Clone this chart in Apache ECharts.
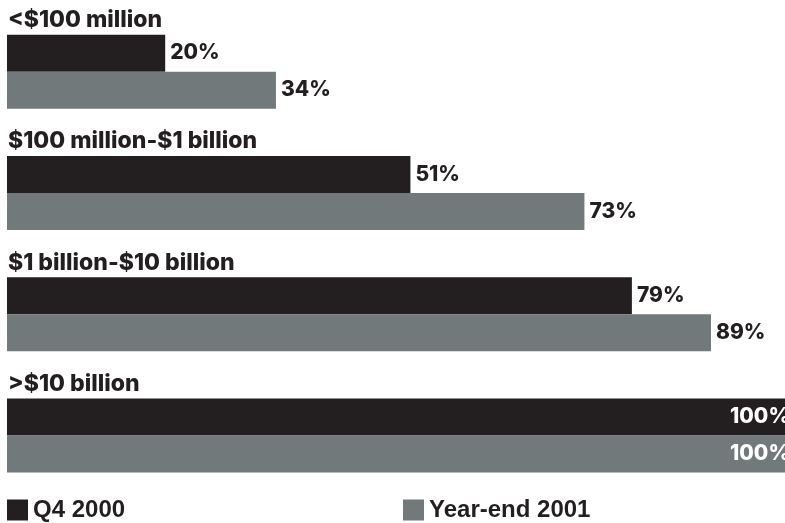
<!DOCTYPE html>
<html>
<head>
<meta charset="utf-8">
<script src="https://cdn.jsdelivr.net/npm/echarts@6/dist/echarts.min.js"></script>
<style>
  html, body { margin: 0; padding: 0; background: #fff; }
  #chart { width: 785px; height: 523px; }
</style>
</head>
<body>
<div id="chart"></div>
<script>
// Company size bands and the share reached in each period
const categories = ['<$100 million', '$100 million-$1 billion', '$1 billion-$10 billion', '>$10 billion'];
const q4_2000 = [20, 51, 79, 100];
const yearEnd2001 = [34, 73, 89, 100];
const seriesNames = ['Q4 2000', 'Year-end 2001'];

const DARK = '#231f20';
const GRAY = '#72797b';
const FONT = 'Inter, "Liberation Sans", sans-serif';
const LEGEND_FONT = '"Liberation Sans", Arial, sans-serif';

function withLabels(values) {
  // Full-width bars carry their value inside in white, others just past the end
  return values.map((v) => ({
    value: v,
    label: v >= 100
      ? { position: 'insideRight', color: '#fff', distance: 8 }
      : { position: 'right', color: DARK, distance: 5 }
  }));
}

const valueLabel = {
  show: true,
  formatter: '{c}%',
  fontFamily: FONT,
  fontWeight: 800,
  fontSize: 21
};

const chart = echarts.init(document.getElementById('chart'), null, { renderer: 'canvas' });
chart.setOption({
  animation: false,
  grid: {
    left: 7, top: 11, height: 485, width: 791,
    containLabel: false,
    outerBoundsMode: 'none'
  },
  xAxis: { type: 'value', min: 0, max: 100, show: false },
  yAxis: {
    type: 'category',
    inverse: true,
    data: categories,
    z: 10,
    axisLine: { show: false },
    axisTick: { show: false },
    axisLabel: {
      interval: 0,
      hideOverlap: false,
      inside: true,
      margin: 1,
      align: 'left',
      verticalAlign: 'bottom',
      padding: [0, 0, 40, 0],
      color: DARK,
      fontFamily: FONT,
      fontWeight: 800,
      fontSize: 23
    }
  },
  legend: [
    {
      data: [seriesNames[0]],
      left: 7, top: 498, padding: 0,
      icon: 'rect', itemWidth: 21, itemHeight: 21, itemGap: 6,
      textStyle: { color: DARK, fontFamily: LEGEND_FONT, fontWeight: 'bold', fontSize: 24, padding: [3, 0, 0, 0] }
    },
    {
      data: [seriesNames[1]],
      left: 403, top: 498, padding: 0,
      icon: 'rect', itemWidth: 21, itemHeight: 21, itemGap: 6,
      textStyle: { color: DARK, fontFamily: LEGEND_FONT, fontWeight: 'bold', fontSize: 24, padding: [3, 0, 0, 0] }
    }
  ],
  series: [
    {
      name: seriesNames[0],
      type: 'bar',
      data: withLabels(q4_2000),
      barWidth: 37,
      barGap: '0%',
      itemStyle: { color: DARK },
      label: valueLabel
    },
    {
      name: seriesNames[1],
      type: 'bar',
      data: withLabels(yearEnd2001),
      barWidth: 37,
      barGap: '0%',
      itemStyle: { color: GRAY },
      label: valueLabel
    }
  ]
});
</script>
</body>
</html>
